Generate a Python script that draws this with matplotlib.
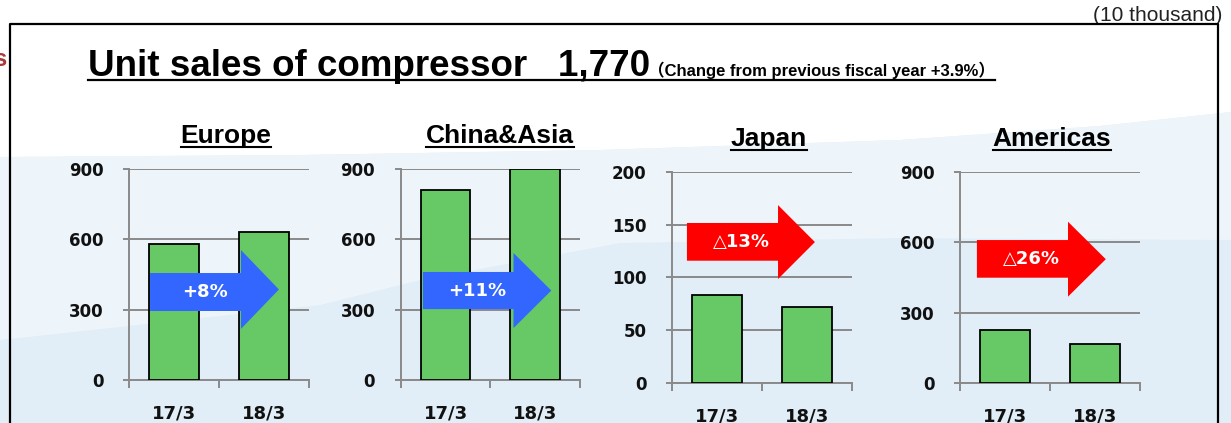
import matplotlib
matplotlib.use('Agg')
import matplotlib.pyplot as plt
from matplotlib.patches import Polygon
from matplotlib.lines import Line2D

# ---------------- data ----------------
regions = ['Europe', 'China&Asia', 'Japan', 'Americas']
periods = ['17/3', '18/3']
europe = [580, 630]
china_asia = [810, 900]
japan = [83, 72]
americas = [225, 166]
changes = ['+8%', '+11%', '△13%', '△26%']
y_max = [900, 900, 200, 900]
y_step = [300, 300, 50, 300]
title_main = 'Unit sales of compressor   1,770'
title_sub = '（Change from previous fiscal year +3.9%）'
unit_label = '(10 thousand)'

series = [europe, china_asia, japan, americas]

W, H = 1231, 423
fig = plt.figure(figsize=(W / 100, H / 100), dpi=100)
fig.patch.set_facecolor('white')


def P(x, y):
    return (x / W, 1 - y / H)


# ---------------- background ----------------
bg_top = [(0, 157), (300, 155), (600, 150), (900, 140), (1100, 126), (1231, 112)]
band_low = [(1231, 240), (900, 238), (620, 243), (420, 280), (320, 305), (0, 340)]
blue_poly = [P(*p) for p in bg_top] + [P(1231, 423), P(0, 423)]
fig.patches.append(Polygon(blue_poly, closed=True, transform=fig.transFigure,
                           facecolor='#e1eef7', edgecolor='none', zorder=-20))
band_poly = [P(*p) for p in bg_top] + [P(*p) for p in band_low]
fig.patches.append(Polygon(band_poly, closed=True, transform=fig.transFigure,
                           facecolor='#eef5fa', edgecolor='none', zorder=-19))

# frame box
fig.lines.append(Line2D([P(9.5, 0)[0], P(9.5, 0)[0], P(1218, 0)[0], P(1218, 0)[0]],
                        [P(0, 430)[1], P(0, 24)[1], P(0, 24)[1], P(0, 430)[1]],
                        transform=fig.transFigure, color='black', lw=1.6, zorder=5))

# cut-off red letter at far left (as in the reference)
fig.text(*P(6, 66), 's', color='#a83a3a', fontsize=17, fontweight='bold',
         ha='right', va='baseline', family='Liberation Sans')

# unit label
fig.text(*P(1222, 21), unit_label, fontsize=15, ha='right', va='baseline',
         family='Liberation Sans', color='#222222')

# ---------------- title ----------------
tfam = ['Liberation Sans', 'Noto Sans CJK JP']
t1 = fig.text(*P(88, 76), title_main, fontsize=26.5, fontweight='bold',
              ha='left', va='baseline', family=tfam)
fig.canvas.draw()
r = fig.canvas.get_renderer()
bb1 = t1.get_window_extent(r)
x_end = bb1.x1 / W
t2 = fig.text(x_end - 2 / W, P(0, 76)[1], title_sub, fontsize=12, fontweight='bold',
              ha='left', va='baseline', family=tfam)
fig.canvas.draw()
bb2 = t2.get_window_extent(r)
fig.lines.append(Line2D([88 / W, bb2.x1 / W], [P(0, 80)[1]] * 2,
                        transform=fig.transFigure, color='black', lw=1.6))

# ---------------- panels ----------------
# pixel boxes: left, right, top, bottom
boxes = [(129, 309, 169, 380), (400.7, 580, 169, 380),
         (672, 852, 172, 382.7), (960, 1140, 172.3, 382.7)]
title_center = [226, 500, 769, 1052]
title_base = [143, 143, 146, 146]
arrows = [
    (0.117, 0.622, 0.833, 0.327, 0.507, 0.242, 0.616),
    (0.124, 0.629, 0.840, 0.336, 0.512, 0.246, 0.602),
    (0.083, 0.589, 0.794, 0.579, 0.758, 0.492, 0.843),
    (0.094, 0.600, 0.810, 0.499, 0.678, 0.409, 0.765),
]
grey = '#8a8a8a'

for i, (name, vals) in enumerate(zip(regions, series)):
    l, rgt, t, b = boxes[i]
    ax = fig.add_axes([l / W, 1 - b / H, (rgt - l) / W, (b - t) / H])
    ax.patch.set_alpha(0)
    x = [0.5, 1.5]
    ax.bar(x, vals, width=0.555, color='#66c966', edgecolor='black', linewidth=1.3, zorder=3)
    ax.set_xlim(0, 2)
    ax.set_ylim(0, y_max[i])
    yt = list(range(0, y_max[i] + 1, y_step[i]))
    ax.set_yticks(yt)
    ax.set_yticklabels([str(v) for v in yt])
    ax.set_xticks(x)
    ax.set_xticklabels(periods)
    ax.set_xticks([0, 1, 2], minor=True)
    ax.grid(axis='y', color=grey, lw=1.4, zorder=1)
    for s in ['top', 'right']:
        ax.spines[s].set_visible(False)
    for s in ['left', 'bottom']:
        ax.spines[s].set_color(grey)
        ax.spines[s].set_linewidth(1.4)
    ax.tick_params(axis='y', direction='out', length=4.5, width=1.4, color=grey,
                   pad=14, labelsize=12)
    ax.tick_params(axis='x', which='major', length=0, pad=17.5, labelsize=13)
    ax.tick_params(axis='x', which='minor', direction='out', length=5.5, width=1.4,
                   color=grey)
    for lab in ax.get_yticklabels() + ax.get_xticklabels():
        lab.set_fontweight('bold')
        lab.set_family('DejaVu Sans')
        lab.set_color('#111111')

    # change arrow
    x0, x1, xt, ylo, yhi, hlo, hhi = arrows[i]
    ymid = (ylo + yhi) / 2
    col = '#3366ff' if changes[i].startswith('+') else '#ff0000'
    pts = [(x0, ylo), (x1, ylo), (x1, hlo), (xt, (hlo + hhi) / 2), (x1, hhi),
           (x1, yhi), (x0, yhi)]
    ax.add_patch(Polygon(pts, closed=True, transform=ax.transAxes, facecolor=col,
                         edgecolor='none', zorder=5, clip_on=False))
    ax.text((x0 + x1) / 2 + 9 / 180, ymid, changes[i], transform=ax.transAxes,
            ha='center', va='center', color='white', fontsize=13, fontweight='bold',
            family='DejaVu Sans', zorder=6)

    # panel title with underline
    tt = fig.text(*P(title_center[i], title_base[i]), name, fontsize=19, fontweight='bold',
                  ha='center', va='baseline', family='Liberation Sans')
    fig.canvas.draw()
    tb = tt.get_window_extent(r)
    fig.lines.append(Line2D([tb.x0 / W, tb.x1 / W], [P(0, title_base[i] + 4)[1]] * 2,
                            transform=fig.transFigure, color='black', lw=1.5))

fig.savefig('out.png', dpi=100)
